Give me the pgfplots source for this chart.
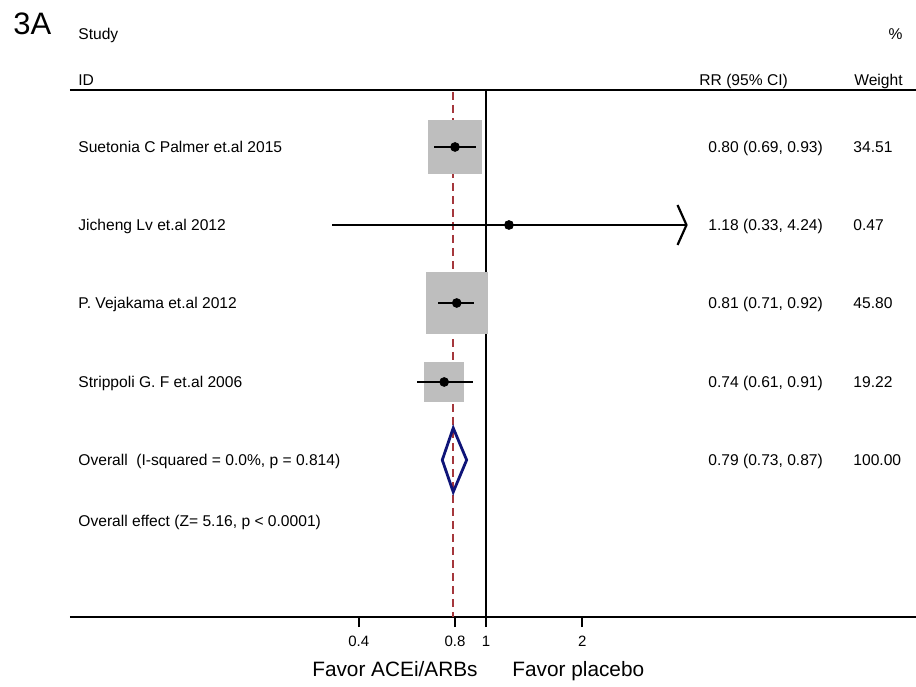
\documentclass[border=0pt]{standalone}
\usepackage{pgfplots}
\pgfplotsset{compat=1.18}
\usepackage{pgfplotstable}
\usepackage{fontspec}
\setmainfont{Liberation Sans}
\definecolor{boxgray}{RGB}{190,190,190}
\definecolor{refred}{RGB}{165,55,60}
\definecolor{dnavy}{RGB}{15,20,120}
\pgfplotstableread{
y rr lo hi w
-147 0.80 0.69 0.93 34.51
-225 1.18 0.33 4.24 0.47
-303 0.81 0.71 0.92 45.80
-382 0.74 0.61 0.91 19.22
}\studies
\begin{document}
\begin{tikzpicture}
\begin{axis}[name=ax, set layers, xmode=log, width=423pt, height=263.5pt, scale only axis,
  xmin=0.04995, xmax=22.15, ymin=-617, ymax=-90,
  axis x line*=bottom, axis y line=none,
  xtick={0.4,0.8,1,2}, xticklabels={0.4,0.8,1,2}, minor xtick={},
  tick align=outside, major tick length=5pt,
  x axis line style={line width=0.8pt, black},
  x tick style={line width=0.8pt, black},
  xticklabel style={font=\fontsize{7.5}{9}\selectfont, yshift=-1pt},
  /pgf/number format/assume math mode=true,
  clip=false]
% reference lines
\addplot[refred, line width=0.75pt, dash pattern=on 4pt off 2.5pt] coordinates {(0.79,-92) (0.79,-617)};
\addplot[black, line width=0.8pt] coordinates {(1,-90) (1,-617)};
% weight boxes
\addplot[scatter, only marks, mark=square*, point meta=\thisrow{w},
  scatter/use mapped color={draw=boxgray, fill=boxgray},
  mark options={line width=0pt},
  visualization depends on={2.255*sqrt(\thisrow{w}) \as \msz},
  scatter/@pre marker code/.append style={/tikz/mark size=\msz pt}]
  table[x=rr, y=y] {\studies};
% confidence intervals
\begin{pgfonlayer}{axis foreground}
\addplot[black, line width=1.3pt] coordinates {(0.69,-147) (0.93,-147)};
\addplot[black, line width=1.1pt] coordinates {(0.33,-225) (4.24,-225)};
\addplot[black, line width=1.1pt] coordinates {(3.975,-205) (4.24,-225) (3.975,-245)};
\addplot[black, line width=1.3pt] coordinates {(0.71,-303) (0.92,-303)};
\addplot[black, line width=1.3pt] coordinates {(0.61,-382) (0.91,-382)};
% point estimates
\addplot[only marks, mark=*, mark size=2.2pt, black] table[x=rr, y=y] {\studies};
\end{pgfonlayer}
% overall diamond
\addplot[dnavy, line width=1.4pt, line join=miter] coordinates {(0.73,-460) (0.79,-428) (0.87,-460) (0.79,-492) (0.73,-460)} -- cycle;
\end{axis}
\begin{scope}[shift={(ax.south west)}, xshift=-35pt, yshift=308.5pt, x=0.5pt, y=-0.5pt]
\draw[black, line width=0.8pt] (70,90) -- (916,90);
\tikzset{every node/.style={inner sep=0pt, font=\fontsize{7.8}{9.4}\selectfont}}
\node[anchor=base west, font=\fontsize{15.5}{18}\selectfont] at (13,34.3) {3A};
\node[anchor=base west] at (78,39.3) {Study};
\node[anchor=base west] at (78,86) {ID};
\node[anchor=base east] at (903,39.3) {\%};
\node[anchor=base west] at (699,86) {RR (95\% CI)};
\node[anchor=base east] at (903,86) {Weight};
\node[anchor=base west] at (78,152.7) {Suetonia C Palmer et.al 2015};
\node[anchor=base west] at (78,230.7) {Jicheng Lv et.al 2012};
\node[anchor=base west] at (78,308.7) {P. Vejakama et.al 2012};
\node[anchor=base west] at (78,387.7) {Strippoli G. F et.al 2006};
\node[anchor=base west] at (78,465.7) {Overall\ \ (I-squared = 0.0\%, p = 0.814)};
\node[anchor=base west] at (78,526.7) {Overall effect (Z= 5.16, p < 0.0001)};
\node[anchor=base west] at (708,152.7) {0.80 (0.69, 0.93)};
\node[anchor=base west] at (708,230.7) {1.18 (0.33, 4.24)};
\node[anchor=base west] at (708,308.7) {0.81 (0.71, 0.92)};
\node[anchor=base west] at (708,387.7) {0.74 (0.61, 0.91)};
\node[anchor=base west] at (708,465.7) {0.79 (0.73, 0.87)};
\node[anchor=base west] at (853,152.7) {34.51};
\node[anchor=base west] at (853,230.7) {0.47};
\node[anchor=base west] at (853,308.7) {45.80};
\node[anchor=base west] at (853,387.7) {19.22};
\node[anchor=base west] at (853,465.7) {100.00};
\node[anchor=base east, font=\fontsize{10.4}{12}\selectfont] at (478,677) {Favor ACEi/ARBs};
\node[anchor=base west, font=\fontsize{10.4}{12}\selectfont] at (512,677) {Favor placebo};
\pgfresetboundingbox
\path[use as bounding box] (0,0) rectangle (916,686);
\end{scope}
\end{tikzpicture}
\end{document}
